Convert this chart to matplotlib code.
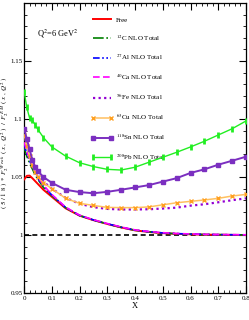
import matplotlib
matplotlib.use("Agg")
import matplotlib.pyplot as plt
from matplotlib.ticker import MultipleLocator, FixedLocator

plt.rcParams['font.family'] = ['Liberation Serif', 'DejaVu Serif']
plt.rcParams['mathtext.fontset'] = 'stix'

x = [0.001, 0.01, 0.02, 0.03, 0.04, 0.05, 0.07, 0.1, 0.15, 0.2, 0.25, 0.3,
     0.35, 0.4, 0.45, 0.5, 0.55, 0.6, 0.65, 0.7, 0.75, 0.8]

free = [1.048, 1.051, 1.0512, 1.049, 1.0465, 1.044, 1.039, 1.033, 1.023, 1.0167,
        1.0128, 1.0095, 1.0065, 1.0040, 1.0026, 1.0016, 1.0010, 1.0006, 1.0003,
        1.0002, 1.0001, 1.0000]
c12 = [1.075, 1.068, 1.062, 1.057, 1.052, 1.048, 1.041, 1.034, 1.0235, 1.0168,
       1.0129, 1.0096, 1.0066, 1.0041, 1.0027, 1.0017, 1.0011, 1.0007, 1.0004,
       1.0003, 1.0002, 1.0001]
al27 = [1.078, 1.070, 1.064, 1.059, 1.054, 1.049, 1.042, 1.0345, 1.0237, 1.0169,
        1.0130, 1.0097, 1.0067, 1.0042, 1.0028, 1.0018, 1.0012, 1.0008, 1.0005,
        1.0003, 1.0002, 1.0001]
ca40 = [1.080, 1.072, 1.066, 1.060, 1.055, 1.050, 1.043, 1.035, 1.024, 1.0171,
        1.0132, 1.0099, 1.0069, 1.0044, 1.0030, 1.0020, 1.0013, 1.0009, 1.0006,
        1.0004, 1.0003, 1.0002]
fe56 = [1.087, 1.078, 1.069, 1.061, 1.055, 1.051, 1.046, 1.040, 1.032, 1.027,
        1.024, 1.0225, 1.022, 1.022, 1.0222, 1.0228, 1.0236, 1.0253, 1.0265,
        1.0282, 1.0300, 1.0316]
cu63 = [1.086, 1.077, 1.068, 1.060, 1.054, 1.050, 1.045, 1.040, 1.0316, 1.0273,
        1.0255, 1.0238, 1.0236, 1.0236, 1.0242, 1.0260, 1.0278, 1.0290, 1.0302,
        1.0316, 1.0336, 1.0350]
sn118 = [1.091, 1.083, 1.074, 1.065, 1.059, 1.055, 1.050, 1.045, 1.039, 1.037,
         1.036, 1.0372, 1.039, 1.041, 1.043, 1.046, 1.049, 1.0535, 1.0566,
         1.0606, 1.064, 1.0675]
pb208 = [1.123, 1.110, 1.101, 1.099, 1.095, 1.091, 1.084, 1.076, 1.068, 1.0623,
         1.059, 1.0566, 1.056, 1.0584, 1.0627, 1.067, 1.0713, 1.0759, 1.0808,
         1.0862, 1.0916, 1.0983]

labels = ['Free', r'$^{12}$C NLO Total', r'$^{27}$Al NLO Total', r'$^{40}$Ca NLO Total',
          r'$^{56}$Fe NLO Total', r'$^{63}$Cu NLO Total', r'$^{118}$Sn NLO Total',
          r'$^{208}$Pb NLO Total']
xticks = [0, 0.1, 0.2, 0.3, 0.4, 0.5, 0.6, 0.7, 0.8]
xticklabels = ['0', '0.1', '0.2', '0.3', '0.4', '0.5', '0.6', '0.7', '0.8']
yticks = [0.95, 1.0, 1.05, 1.1, 1.15]
yticklabels = ['0.95', '1', '1.05', '1.1', '1.15']

fig = plt.figure(figsize=(2.49, 3.20), dpi=100)
ax = fig.add_axes([24/249, 1-293/320, 222/249, 290/320])

ax.axhline(1.0, color='black', ls=(0, (3, 2)), lw=1.2, zorder=1)

ax.plot(x, free, color='#FF0000', lw=1.4, label=labels[0], zorder=3)
ax.plot(x, c12, color='#008000', lw=1.2, ls='-.', label=labels[1], zorder=4)
ax.plot(x, al27, color='#0000FF', lw=1.2, ls=(0, (4, 1.5, 1, 1.5, 1, 1.5)), label=labels[2], zorder=4)
ax.plot(x, ca40, color='#FF00FF', lw=1.2, ls=(0, (4, 2)), label=labels[3], zorder=5)
ax.plot(x, fe56, color='#9400D3', lw=1.6, ls=(0, (1, 1.5)), label=labels[4], zorder=5)
ax.plot(x, cu63, color='#FFC060', lw=1.1, marker='x', ms=3, mew=1.0, mec='#FFA020',
        label=labels[5], zorder=6)
ax.plot(x, sn118, color='#7B2FC0', lw=1.4, marker='s', ms=2.8, mec='#7B2FC0',
        mfc='#7B2FC0', label=labels[6], zorder=6)
ax.plot(x, pb208, color='#22EE22', lw=1.0, marker='|', ms=4, mew=2.0, mec='#22EE22',
        label=labels[7], zorder=6)

ax.set_xlim(0, 0.8)
ax.set_ylim(0.95, 1.2)
ax.xaxis.set_major_locator(FixedLocator(xticks))
ax.xaxis.set_minor_locator(MultipleLocator(0.02))
ax.yaxis.set_major_locator(FixedLocator(yticks))
ax.yaxis.set_minor_locator(MultipleLocator(0.01))
ax.set_xticklabels(xticklabels)
ax.set_yticklabels(yticklabels)
ax.tick_params(which='both', direction='in', top=True, right=True, labelsize=5, pad=2)
ax.tick_params(axis='y', which='major', pad=1)
ax.tick_params(which='major', length=5, width=0.8)
ax.tick_params(which='minor', length=2.5, width=0.6)
for s in ax.spines.values():
    s.set_linewidth(0.9)

ax.set_xlabel('X', fontsize=6, labelpad=1)
ax.set_ylabel(r'$(\ 5\ /\ 1\ 8\ )\ *\ F_2^{\ W\,e\,a\,k}\ (\ x\ ,\ Q^2\ )\ \ /\ \ F_2^{\ E\,M}\ (\ x\ ,\ Q^2\ )$',
              fontsize=5, family='DejaVu Sans')
ax.yaxis.set_label_coords(-0.06, 0.52)

ax.text(0.06, 0.885, r'Q$^2$=6 GeV$^2$', transform=ax.transAxes, fontsize=6)

ax.legend(loc='upper left', bbox_to_anchor=(0.30, 0.952), frameon=False, fontsize=5,
          numpoints=2, handlelength=3.3, handletextpad=0.3, labelspacing=1.45,
          borderaxespad=0, borderpad=0)

fig.savefig('out.png', dpi=100)
